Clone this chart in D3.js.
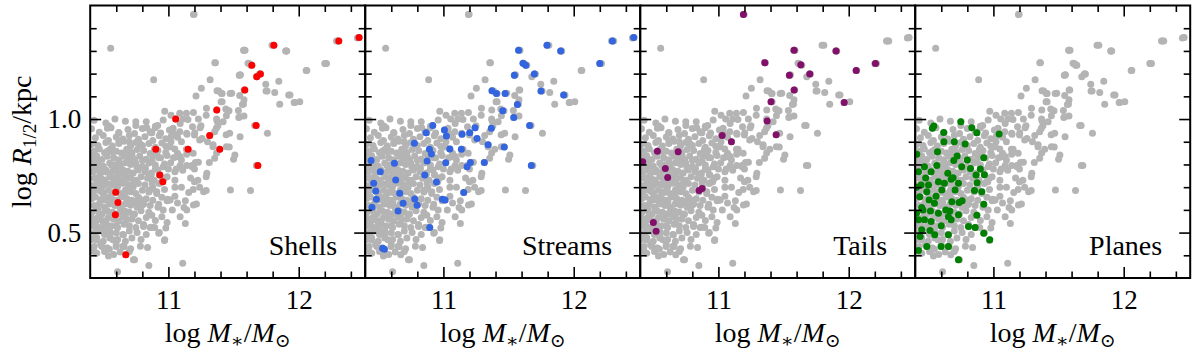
<!DOCTYPE html>
<html><head><meta charset="utf-8">
<script src="https://cdn.jsdelivr.net/npm/d3@7"></script>
<style>
body{margin:0;background:#fff}
svg{display:block;font-family:"Liberation Serif","DejaVu Serif",serif}
</style>
</head><body><div id="chart"></div>
<script>
// Vier Panels mit gemeinsamer y-Achse: graue Gesamtstichprobe, farbig die Untergruppe.
const panelNames = ["Shells","Streams","Tails","Planes"];
const xMajor = [11,12];
const xMinor = [10.6,10.8,11.2,11.4,11.6,11.8,12.2,12.4];
const yMajor = [0.5,1.0];
const yMinor = [0.4,0.6,0.7,0.8,0.9,1.1,1.2,1.3,1.4];

// dichter Kern der Stichprobe
const sampleCore = [
[10.43,0.995],[10.52,0.983],[10.59,1.0],[10.67,0.99],[10.75,0.972],[10.83,0.988],[10.9,0.968],[10.96,0.996],
[10.41,0.957],[10.47,0.942],[10.56,0.962],[10.62,0.938],[10.69,0.954],[10.74,0.936],[10.8,0.958],[10.86,0.944],[10.9,0.962],[10.94,0.939],
[10.44,0.918],[10.5,0.927],[10.54,0.906],[10.6,0.921],[10.65,0.912],[10.7,0.928],[10.77,0.911],[10.82,0.922],[10.88,0.905],[10.93,0.926],[10.98,0.913],
[10.41,0.888],[10.46,0.883],[10.52,0.897],[10.57,0.881],[10.62,0.892],[10.66,0.902],[10.71,0.882],[10.75,0.897],[10.8,0.884],[10.85,0.892],[10.9,0.876],[10.95,0.895],
[10.43,0.858],[10.47,0.868],[10.51,0.852],[10.55,0.866],[10.6,0.858],[10.64,0.851],[10.68,0.867],[10.72,0.853],[10.76,0.866],[10.81,0.861],[10.86,0.848],[10.92,0.862],[10.98,0.853],
[10.4,0.828],[10.45,0.837],[10.49,0.822],[10.53,0.836],[10.58,0.829],[10.62,0.821],[10.66,0.836],[10.7,0.83],[10.74,0.822],[10.78,0.837],[10.83,0.823],[10.88,0.836],[10.94,0.829],
[10.42,0.8],[10.46,0.807],[10.5,0.792],[10.55,0.806],[10.59,0.799],[10.63,0.791],[10.67,0.807],[10.71,0.8],[10.75,0.806],[10.8,0.792],[10.85,0.806],[10.9,0.798],[10.97,0.802],
[10.41,0.768],[10.44,0.777],[10.48,0.762],[10.52,0.776],[10.57,0.769],[10.61,0.762],[10.65,0.777],[10.69,0.77],[10.73,0.762],[10.77,0.776],[10.82,0.768],[10.87,0.762],[10.92,0.776],
[10.43,0.739],[10.47,0.747],[10.51,0.732],[10.55,0.746],[10.59,0.739],[10.63,0.732],[10.67,0.747],[10.71,0.74],[10.75,0.731],[10.79,0.746],[10.84,0.739],[10.89,0.731],[10.99,0.746],
[10.4,0.709],[10.45,0.717],[10.49,0.702],[10.53,0.716],[10.57,0.71],[10.61,0.702],[10.65,0.717],[10.69,0.709],[10.73,0.701],[10.77,0.716],[10.82,0.709],[10.88,0.702],[10.93,0.716],
[10.42,0.68],[10.46,0.687],[10.5,0.672],[10.54,0.686],[10.58,0.679],[10.63,0.672],[10.67,0.687],[10.71,0.68],[10.75,0.672],[10.8,0.686],[10.85,0.679],[10.91,0.672],
[10.41,0.649],[10.44,0.657],[10.48,0.642],[10.52,0.656],[10.56,0.649],[10.6,0.642],[10.64,0.657],[10.68,0.65],[10.72,0.642],[10.77,0.656],[10.83,0.649],[10.88,0.642],[10.95,0.656],
[10.43,0.619],[10.47,0.627],[10.51,0.612],[10.55,0.626],[10.59,0.619],[10.63,0.612],[10.67,0.627],[10.71,0.62],[10.76,0.612],[10.81,0.626],[10.86,0.619],[10.92,0.612],
[10.4,0.589],[10.45,0.597],[10.49,0.582],[10.53,0.596],[10.57,0.589],[10.61,0.582],[10.65,0.597],[10.7,0.59],[10.74,0.582],[10.79,0.596],[10.85,0.589],
[10.42,0.559],[10.46,0.567],[10.5,0.552],[10.54,0.566],[10.58,0.559],[10.62,0.552],[10.67,0.567],[10.72,0.56],[10.77,0.552],[10.83,0.566],[10.9,0.553],
[10.41,0.529],[10.44,0.537],[10.48,0.522],[10.52,0.536],[10.56,0.529],[10.61,0.522],[10.66,0.537],[10.7,0.53],[10.75,0.522],[10.81,0.536],[10.87,0.523],
[10.43,0.499],[10.47,0.507],[10.51,0.492],[10.55,0.506],[10.6,0.499],[10.65,0.492],[10.7,0.507],[10.76,0.5],[10.83,0.492],
[10.41,0.469],[10.45,0.477],[10.5,0.462],[10.55,0.476],[10.61,0.469],[10.67,0.462],[10.72,0.476],[10.79,0.469],
[10.43,0.439],[10.48,0.447],[10.53,0.432],[10.6,0.446],[10.66,0.439],[10.71,0.429],
[10.45,0.409],[10.51,0.417],[10.58,0.403],[10.63,0.415]
];
// lockere Punkte ausserhalb des Kerns
const sampleOuter = [
[11.197,1.462],[10.557,1.312],[11.588,1.303],[11.908,1.3],[11.361,1.248],[11.619,1.245],[12.213,1.245],[12.062,1.214],
[11.553,1.195],[10.887,1.173],[11.32,1.173],[11.847,1.166],[11.747,1.153],[11.253,1.136],[11.757,1.123],[11.816,1.117],
[11.386,1.124],[11.412,1.113],[11.486,1.114],[11.547,1.104],[11.933,1.106],[11.212,1.102],[11.58,1.085],[11.412,1.076],
[11.969,1.073],[11.854,1.065],[11.576,1.066],[11.292,1.048],[11.44,1.044],[11.465,1.037],[11.537,1.038],[10.972,1.034],
[11.192,1.029],[12.008,1.076],[12.45,1.357],[12.29,1.344],
[11.58,1.013],[11.138,1.025],[11.02,1.017],[11.087,1.025],[11.11,1.0],[11.15,0.998],[11.23,1.0],[11.25,0.97],[11.29,1.017],
[11.37,1.0],[11.445,1.015],[11.547,1.01],[11.42,0.988],[11.38,0.97],[11.355,0.944],[11.47,0.937],[11.55,0.922],[11.76,0.937],
[11.185,0.966],[11.09,0.98],[11.036,0.96],[11.087,0.944],[11.14,0.937],[11.2,0.93],[11.24,0.908],[11.3,0.9],[11.342,0.878],
[11.37,0.85],[11.355,0.827],[11.445,0.878],[11.51,0.842],[11.5,0.823],[11.01,0.878],[11.07,0.849],[11.09,0.835],[11.14,0.845],
[11.19,0.849],[11.23,0.81],[11.09,0.795],[11.14,0.795],[11.18,0.795],[11.05,0.768],[11.17,0.74],[11.2,0.724],[11.27,0.68],
[11.29,0.685],[11.476,0.688],[11.63,0.685],[11.215,0.626],[11.12,0.61],[11.13,0.54],[11.07,0.63],[11.11,0.365],[10.85,0.355],
[10.61,0.328],[10.54,0.397],[10.74,0.38],[10.785,0.44],[10.84,0.434],[10.97,0.465],[10.99,0.544],[10.424,0.417],[10.447,0.468],
[10.575,0.468],[10.652,0.44],[10.7,0.417],
[10.98,0.88],[11.02,0.9],[11.07,0.92],[10.99,0.84],[11.04,0.83],[11.1,0.82],[10.96,0.79],[11.0,0.78],[11.06,0.78],[11.11,0.775],
[11.2,0.78],[10.97,0.74],[11.05,0.73],[10.97,0.69],[11.05,0.7],[11.1,0.7],[11.19,0.69],[11.24,0.7],[10.99,0.64],[11.05,0.66],
[11.13,0.64],[10.96,0.6],[11.03,0.6],[11.09,0.57],[10.95,0.57],[10.98,0.52],[10.93,0.5],[11.01,0.644],[11.141,0.6],
[11.192,0.622],[11.295,0.761],[11.29,0.746],[11.226,0.73],[11.065,0.834],[11.013,0.878]
];

const shells = [
[10.596,0.678],[10.613,0.632],[10.593,0.579],[10.673,0.402],[10.903,0.867],[10.934,0.754],[10.957,0.724],
[11.056,1.0],[11.151,0.867],[11.317,0.928],[11.394,0.867],[11.371,1.04],[11.586,1.128],[11.64,1.237],
[11.678,1.186],[11.706,1.198],[11.673,0.972],[11.686,0.795],[11.809,1.325],[12.307,1.344],[12.463,1.359]
];
const streams = [
[10.445,0.817],[10.516,0.768],[10.465,0.717],[10.481,0.683],[10.486,0.647],[10.452,0.612],[10.624,0.805],
[10.634,0.732],[10.665,0.673],[10.691,0.629],[10.652,0.595],[10.777,0.893],[10.78,0.648],[10.798,0.62],
[10.534,0.431],[10.547,0.427],[10.867,0.94],[10.918,0.972],[10.893,0.867],[10.908,0.846],[10.875,0.815],
[10.857,0.754],[10.947,0.723],[10.895,0.522],[10.992,0.647],[11.013,0.644],[11.008,0.952],[11.023,0.925],
[11.049,0.868],[11.018,0.807],[11.138,0.867],[11.143,0.933],[11.202,0.94],[11.243,0.962],[11.258,0.914],
[11.207,0.809],[11.182,0.79],[11.156,0.676],[11.314,0.809],[11.343,0.887],[11.368,0.959],[11.455,1.037],
[11.467,0.877],[11.54,1.007],[11.568,1.064],[11.545,1.193],[11.373,1.125],[11.407,1.113],[11.474,1.113],
[11.577,1.303],[11.611,1.246],[11.632,1.237],[11.698,1.198],[11.749,1.123],[11.662,0.972],[11.675,0.795],
[11.795,1.325],[11.9,1.3],[11.923,1.106],[12.2,1.245],[12.297,1.344],[12.46,1.359]
];
const tails = [
[11.192,1.46],[11.356,1.248],[11.581,1.303],[11.632,1.239],[11.545,1.193],[11.701,1.198],[11.581,1.128],
[11.404,1.076],[11.903,1.3],[12.057,1.214],[12.205,1.245],[11.965,1.073],[11.374,0.991],[11.443,0.931],
[11.029,0.928],[11.1,0.9],[10.419,0.812],[10.532,0.858],[10.691,0.856],[10.593,0.782],[10.611,0.743],
[10.852,0.685],[10.875,0.694],[10.501,0.544],[10.522,0.506]
];
const planes = [
[10.75,0.988],[10.543,0.969],[10.532,0.959],[10.834,0.962],[10.619,0.941],[10.873,0.94],[11.044,0.934],
[10.783,0.89],[10.412,0.845],[10.571,0.856],[10.722,0.837],[10.696,0.817],[10.926,0.83],[10.471,0.79],
[10.566,0.795],[10.757,0.79],[10.824,0.782],[10.867,0.754],[10.931,0.755],[10.522,0.768],[10.425,0.768],
[10.65,0.761],[10.691,0.742],[10.676,0.735],[10.732,0.717],[10.875,0.72],[10.624,0.717],[10.578,0.724],
[10.502,0.71],[10.445,0.71],[10.41,0.7],[10.489,0.68],[10.604,0.688],[10.706,0.688],[10.855,0.685],
[10.911,0.68],[10.435,0.658],[10.507,0.644],[10.548,0.629],[10.681,0.636],[10.737,0.632],[10.926,0.625],
[10.45,0.61],[10.517,0.595],[10.578,0.585],[10.635,0.6],[10.666,0.595],[10.41,0.585],[10.425,0.556],
[10.471,0.556],[10.522,0.549],[10.655,0.57],[10.676,0.556],[10.732,0.578],[10.873,0.576],[10.809,0.527],
[10.86,0.522],[10.45,0.512],[10.514,0.509],[10.438,0.483],[10.655,0.49],[10.926,0.497],[10.972,0.468],
[10.489,0.439],[10.425,0.421],[10.599,0.439],[10.655,0.439],[10.732,0.38],[10.62,0.9],[10.7,0.9],
[10.48,0.74],[10.56,0.66],[10.6,0.53],[10.76,0.64],[10.8,0.82],[10.9,0.78],[10.46,0.6],[10.55,0.49]
];

const series = [shells, streams, tails, planes];
const seriesColor = ["#ff0000","#3465e0","#82106a","#008000"];
const grey = "#b4b4b4";
const allGalaxies = sampleCore.concat(sampleOuter, shells, streams, tails, planes);

const W=1200, H=354, m={l:90.2, t:5.5}, pw=275, ph=272.5, r=3.5;
const x = d3.scaleLinear().domain([10.4,12.51]).range([0,pw]);
const y = d3.scaleLinear().domain([0.3,1.5]).range([ph,0]);

const svg = d3.select("#chart").append("svg").attr("width",W).attr("height",H);
svg.append("defs").append("clipPath").attr("id","clip")
  .append("rect").attr("width",pw).attr("height",ph);

panelNames.forEach((name,i)=>{
  const g = svg.append("g").attr("transform",`translate(${m.l+i*pw},${m.t})`);
  const pts = g.append("g").attr("clip-path","url(#clip)");
  pts.selectAll("circle.bg").data(allGalaxies).join("circle").attr("class","bg")
    .attr("cx",d=>x(d[0])).attr("cy",d=>y(d[1])).attr("r",r).attr("fill",grey);
  pts.selectAll("circle.sub").data(series[i]).join("circle").attr("class","sub")
    .attr("cx",d=>x(d[0])).attr("cy",d=>y(d[1])).attr("r",r).attr("fill",seriesColor[i]);

  // Ticks nach innen, auf allen vier Seiten
  const ax = (axis, t)=> g.append("g").attr("transform",t).call(axis)
    .attr("font-family",null).attr("font-size",27)
    .call(s=>{ s.select(".domain").remove(); s.selectAll("line").attr("stroke","#000").attr("stroke-width",1.6);
      s.selectAll("text").attr("fill","#000"); });
  ax(d3.axisBottom(x).tickValues(xMajor).tickSize(-11).tickPadding(12).tickFormat(d3.format("d")), `translate(0,${ph})`);
  ax(d3.axisBottom(x).tickValues(xMinor).tickSize(-6.5).tickFormat(""), `translate(0,${ph})`);
  ax(d3.axisTop(x).tickValues(xMajor).tickSize(-11).tickFormat(""), "translate(0,0)");
  ax(d3.axisTop(x).tickValues(xMinor).tickSize(-6.5).tickFormat(""), "translate(0,0)");
  ax(d3.axisLeft(y).tickValues(yMajor).tickSize(-11).tickPadding(9).tickFormat(i===0?d3.format(".1f"):()=>""), "translate(0,0)");
  ax(d3.axisLeft(y).tickValues(yMinor).tickSize(-6.5).tickFormat(""), "translate(0,0)");
  ax(d3.axisRight(y).tickValues(yMajor).tickSize(-11).tickFormat(""), `translate(${pw},0)`);
  ax(d3.axisRight(y).tickValues(yMinor).tickSize(-6.5).tickFormat(""), `translate(${pw},0)`);

  g.append("rect").attr("width",pw).attr("height",ph).attr("fill","none").attr("stroke","#000").attr("stroke-width",2);

  g.append("text").attr("x",pw-28).attr("y",249.5).attr("text-anchor","end").attr("font-size",28).text(name);

  // x-Beschriftung: log M*/M_sun
  const xl = g.append("text").attr("x",pw/2).attr("y",336).attr("text-anchor","middle").attr("font-size",28);
  xl.append("tspan").text("log ");
  xl.append("tspan").attr("font-style","italic").text("M");
  xl.append("tspan").attr("font-size",19).attr("dy",5).text("\u2217");
  xl.append("tspan").attr("dy",-5).text("/");
  xl.append("tspan").attr("font-style","italic").text("M");
  xl.append("tspan").attr("font-size",19).attr("dy",5).text("\u2299");
});

// y-Beschriftung: log R_1/2 / kpc
const yl = svg.append("text").attr("transform",`translate(31,${m.t+ph/2}) rotate(-90)`)
  .attr("text-anchor","middle").attr("font-size",28);
yl.append("tspan").text("log ");
yl.append("tspan").attr("font-style","italic").text("R");
yl.append("tspan").attr("font-size",19).attr("dy",5).text("1/2");
yl.append("tspan").attr("dy",-5).text("/kpc");
</script>
</body></html>
